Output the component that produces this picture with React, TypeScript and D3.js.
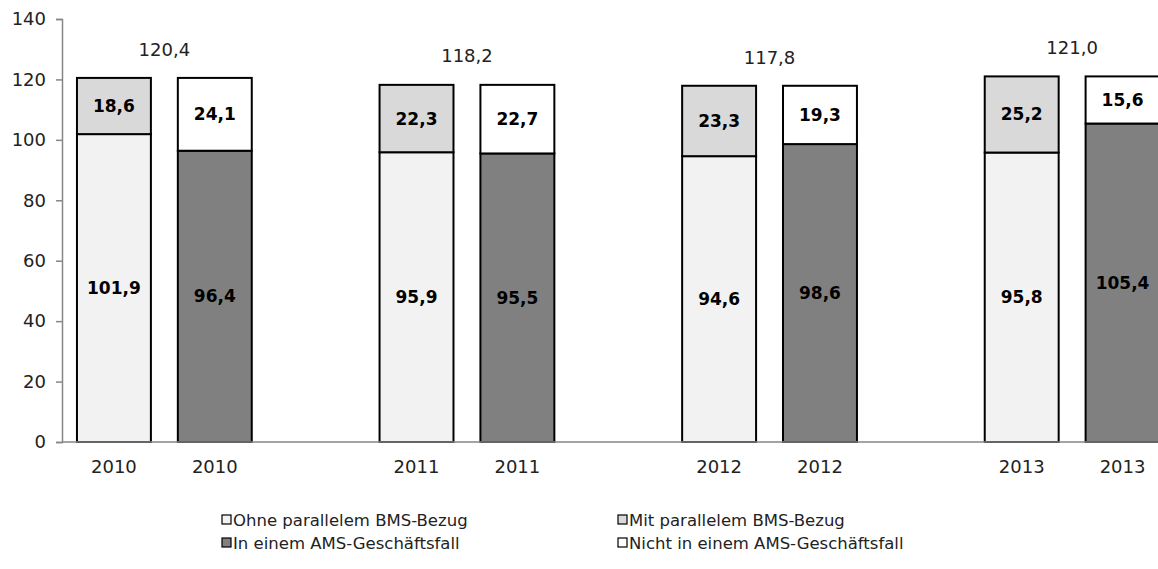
import React, { useEffect, useRef } from 'react';
import * as d3 from 'd3';

const years = ['2010', '2011', '2012', '2013'];
const ohneBms = [101.9, 95.9, 94.6, 95.8];
const mitBms = [18.6, 22.3, 23.3, 25.2];
const inAms = [96.4, 95.5, 98.6, 105.4];
const nichtAms = [24.1, 22.7, 19.3, 15.6];
const totals = [120.4, 118.2, 117.8, 121.0];
const yTicks = [0, 20, 40, 60, 80, 100, 120, 140];

const legendItems = [
  { label: 'Ohne parallelem BMS-Bezug', fill: '#f2f2f2' },
  { label: 'Mit parallelem BMS-Bezug', fill: '#d9d9d9' },
  { label: 'In einem AMS-Geschäftsfall', fill: '#808080' },
  { label: 'Nicht in einem AMS-Geschäftsfall', fill: '#ffffff' },
];

const fmt = (v: number) => v.toFixed(1).replace('.', ',');
const font = '"DejaVu Sans", sans-serif';

const App: React.FC = () => {
  const ref = useRef<SVGSVGElement | null>(null);

  useEffect(() => {
    if (!ref.current) return;
    const svg = d3.select(ref.current);
    svg.selectAll('*').remove();
    const width = 1158;
    const height = 569;

    // 11 slots: two bars per year, one empty slot between years
    const slots: string[] = [];
    years.forEach((y, i) => {
      slots.push(`${y}-a`, `${y}-b`);
      if (i < years.length - 1) slots.push(`gap-${i}`);
    });

    const x = d3.scaleBand().domain(slots).range([63.5, 1173]).paddingInner(0.267).paddingOuter(0.1335);
    const y = d3.scaleLinear().domain([0, 140]).range([442, 19]);

    // y axis
    const yAxis = svg.append('g').attr('transform', 'translate(62,0)')
      .call(d3.axisLeft(y).tickValues(yTicks).tickSize(6).tickPadding(10));
    yAxis.select('.domain').attr('stroke', '#868686').attr('stroke-width', 1.5);
    yAxis.selectAll('.tick line').attr('stroke', '#868686').attr('stroke-width', 1.5);
    yAxis.selectAll('.tick text').attr('font-family', font).attr('font-size', 18).attr('fill', '#222');

    const stacks = years.map((yr, i) => ([
      { slot: `${yr}-a`, segs: [
        { v0: 0, v1: ohneBms[i], v: ohneBms[i], fill: '#f2f2f2' },
        { v0: ohneBms[i], v1: ohneBms[i] + mitBms[i], v: mitBms[i], fill: '#d9d9d9' },
      ] },
      { slot: `${yr}-b`, segs: [
        { v0: 0, v1: inAms[i], v: inAms[i], fill: '#808080' },
        { v0: inAms[i], v1: inAms[i] + nichtAms[i], v: nichtAms[i], fill: '#ffffff' },
      ] },
    ])).flat();

    const bw = x.bandwidth();
    stacks.forEach(s => {
      const bx = x(s.slot) as number;
      s.segs.forEach(seg => {
        svg.append('rect')
          .attr('x', bx).attr('y', y(seg.v1))
          .attr('width', bw).attr('height', y(seg.v0) - y(seg.v1))
          .attr('fill', seg.fill).attr('stroke', '#000').attr('stroke-width', 2);
        svg.append('text')
          .attr('x', bx + bw / 2).attr('y', (y(seg.v0) + y(seg.v1)) / 2)
          .attr('text-anchor', 'middle').attr('dominant-baseline', 'central')
          .attr('font-family', font).attr('font-size', 17).attr('font-weight', 'bold')
          .attr('fill', '#000').text(fmt(seg.v));
      });
    });

    // x axis line
    svg.append('line').attr('x1', 62).attr('x2', width).attr('y1', y(0)).attr('y2', y(0))
      .attr('stroke', '#868686').attr('stroke-width', 1.5);

    // x labels
    stacks.forEach(s => {
      svg.append('text')
        .attr('x', (x(s.slot) as number) + bw / 2).attr('y', 466)
        .attr('text-anchor', 'middle').attr('dominant-baseline', 'central')
        .attr('font-family', font).attr('font-size', 18).attr('fill', '#222')
        .text(s.slot.slice(0, 4));
    });

    // totals
    years.forEach((yr, i) => {
      const cx = ((x(`${yr}-a`) as number) + (x(`${yr}-b`) as number) + bw) / 2;
      svg.append('text')
        .attr('x', cx).attr('y', y(totals[i]) - 29)
        .attr('text-anchor', 'middle').attr('dominant-baseline', 'central')
        .attr('font-family', font).attr('font-size', 18).attr('fill', '#222')
        .text(fmt(totals[i]));
    });

    // legend
    const legX = [222, 618];
    const legY = [520, 543];
    legendItems.forEach((it, i) => {
      const lx = legX[i % 2];
      const ly = legY[Math.floor(i / 2)];
      svg.append('rect').attr('x', lx).attr('y', ly - 5).attr('width', 9).attr('height', 9)
        .attr('fill', it.fill).attr('stroke', '#000').attr('stroke-width', 1.2);
      svg.append('text').attr('x', lx + 11).attr('y', ly)
        .attr('dominant-baseline', 'central')
        .attr('font-family', font).attr('font-size', 16.5).attr('fill', '#222')
        .text(it.label);
    });

    svg.attr('width', width).attr('height', height);
  }, []);

  return (
    <>
      <style>{'body{margin:0}'}</style>
      <svg ref={ref} width={1158} height={569} style={{ display: 'block' }} />
    </>
  );
};

export default App;
